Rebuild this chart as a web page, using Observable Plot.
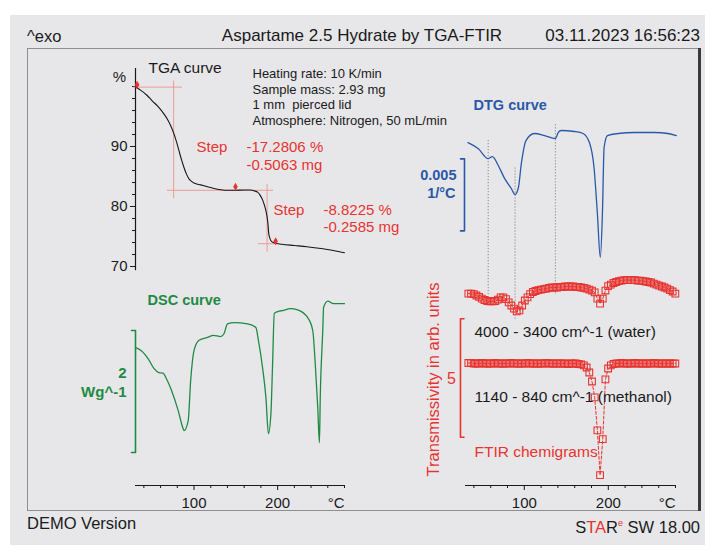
<!DOCTYPE html>
<html><head><meta charset="utf-8">
<script src="https://cdn.jsdelivr.net/npm/d3@7"></script>
<script src="https://cdn.jsdelivr.net/npm/@observablehq/plot@0.6"></script>
<style>
html,body{margin:0;padding:0;background:#fff;}
#page{position:relative;width:716px;height:559px;overflow:hidden;font-family:"Liberation Sans",Arial,Helvetica,sans-serif;}
#page svg{position:absolute;left:0;top:0;}
.bg{position:absolute;left:10px;top:15px;width:695px;height:530px;background:#e7e7ea;}
.ln{position:absolute;}
.t{position:absolute;white-space:nowrap;color:#1a1a1a;line-height:20px;}
</style></head><body>
<div id="page"><div class="bg"></div>
<div class="ln" style="left:27px;top:48px;width:673px;height:1px;background:#8e8e8e"></div>
<div class="ln" style="left:27px;top:48px;width:1px;height:463px;background:#8e8e8e"></div>
<div class="ln" style="left:27px;top:510px;width:673px;height:1px;background:#8e8e8e"></div>
<div class="ln" style="left:698px;top:48px;width:3px;height:463px;background:#3a3a3a"></div>
<div class="t" id="hLeft" style="left:27px;top:26px;font-size:16.5px"></div>
<div class="t" id="hTitle" style="left:362px;top:26px;font-size:17px;transform:translateX(-50%)"></div>
<div class="t" id="hDate" style="right:16px;top:26px;font-size:17px"></div>
<div class="t" id="fLeft" style="left:27px;top:513px;font-size:16.5px"></div>
<div class="t" id="fRight" style="right:16px;top:513px;font-size:16.5px"><span>S</span><span style="color:#e8332f">TA</span><span>R</span><sup style="color:#e8332f;font-size:9px;vertical-align:7px">e</sup><span> SW 18.00</span></div>
</div>
<script>
// ---------- texts ----------
const headerLeft = "^exo";
const headerTitle = "Aspartame 2.5 Hydrate by TGA-FTIR";
const headerDate = "03.11.2023 16:56:23";
const footerLeft = "DEMO Version";
const infoLines = ["Heating rate: 10 K/min", "Sample mass: 2.93 mg", "1 mm  pierced lid", "Atmosphere: Nitrogen, 50 mL/min"];

// ---------- TGA (°C, %) ----------
const tgaTemp = [30,36,44,50,56,62,68,72,76,79,82,85,88,91,94,97,100,108,116,124,132,140,150,160,168,172,176,179,182,184,186,187.5,188.5,189.3,190.5,192,196,205,220,235,252,265,280];
const tgaMass = [99.9,99.4,98.5,97.6,96.8,95.8,94.6,93.5,92.1,90.8,89.3,87.8,86.5,85.4,84.6,84.2,83.9,83.6,83.3,83.0,82.8,82.7,82.7,82.75,82.75,82.6,82.4,81.9,81.1,80.3,79.3,78.2,77.0,75.6,74.8,74.3,73.9,73.7,73.5,73.3,73.0,72.7,72.3];
const tgaMajorTicks = [70, 80, 90];
const tgaMinorTicks = [72,74,76,78,82,84,86,88,92,94,96,98,100];
// step evaluations
const stepWord = ["Step", "Step"];
const stepPercent = ["-17.2806 %", "-8.8225 %"];
const stepMassText = ["-0.5063 mg", "-0.2585 mg"];
const stepInflectionTemp = [75.6, 187.4];
const stepUpper = [99.9, 82.7];
const stepLower = [82.7, 73.8];
const stepLineLevel = [99.9, 82.7, 73.8];
const stepLineFrom = [27.6, 68.3, 177.1];
const stepLineTo = [86.2, 195.1, 199.9];
const stepLimitTemp = [32, 149.6, 197.6];
const stepLimitMass = [100.3, 83.3, 74.2];

// ---------- DSC (°C, W/g) ----------
const dscTemp = [30,37,45,52,58,63,67,73,81,87,88,93,96,100,106,117,123,132,136,140,148,164,174,177,182,186,189,192,194,196,200,207,215,224,236,242,245,248,250,251,254,255,260,267,280];
const dscHeatFlow = [-0.28,-0.33,-0.46,-0.62,-0.69,-0.70,-0.79,-0.98,-1.31,-1.61,-1.64,-1.48,-0.82,-0.33,-0.16,-0.11,-0.08,-0.10,-0.05,0.11,0.13,0.11,0.05,-0.16,-0.61,-1.10,-1.69,-1.36,-0.54,0.28,0.31,0.33,0.36,0.34,0.21,0,-0.54,-1.26,-1.84,-1.10,0,0.38,0.48,0.44,0.44];
const dscScaleBar = 2; // W/g

// ---------- DTG (°C, 1e-3 1/°C) ----------
const dtgTemp = [33,45,57,62,69,76,84.5,89,93,96.5,102,112,124,137,140.5,144,159.5,170,177.5,183,187,190.5,193,195,199,212,231,255,271,281];
const dtgRate = [-0.63,-1.04,-1.74,-1.60,-2.22,-3.06,-3.82,-4.24,-3.75,-2.08,-0.49,0,-0.14,-0.35,0.07,0.21,0.14,0,-0.63,-2.36,-5.56,-8.61,-5.56,-0.97,-0.14,0,0.07,0.07,0,-0.14];
const dtgPeakTemp = [57, 89, 137];
const dtgPeakTop = [-0.5, -2.4, 0.6];
const dtgPeakBottom = [-11.8, -13.0, -11.25];
const dtgScaleBar = 5; // 0.005 1/°C

// ---------- FTIR chemigrams (°C, arb. units) ----------
const ftirTemp = [33.4,36.6,39.8,43.0,46.2,49.4,52.6,55.8,59.0,62.2,65.4,68.6,71.8,75.0,78.2,81.4,84.6,87.8,91.0,94.2,97.4,100.6,103.8,107.0,110.2,113.4,116.6,119.8,123.0,126.2,129.4,132.6,135.8,139.0,142.2,145.4,148.6,151.8,155.0,158.2,161.4,164.6,167.8,171.0,174.2,177.4,180.6,183.8,187.0,190.2,193.4,196.6,199.8,203.0,206.2,209.4,212.6,215.8,219.0,222.2,225.4,228.6,231.8,235.0,238.2,241.4,244.6,247.8,251.0,254.2,257.4,260.6,263.8,267.0,270.2,273.4,276.6,279.8];
const waterSignal = [0.29,0.29,0.27,0.21,0.15,0.08,0.02,-0.02,-0.04,-0.04,-0.02,0.04,0.13,0.13,0.06,-0.08,-0.21,-0.34,-0.46,-0.42,-0.21,0,0.13,0.27,0.36,0.40,0.44,0.46,0.48,0.50,0.53,0.55,0.55,0.55,0.57,0.57,0.59,0.59,0.59,0.59,0.57,0.57,0.55,0.53,0.50,0.46,0.42,0.34,0.08,-0.13,0.08,0.42,0.61,0.67,0.74,0.78,0.82,0.84,0.86,0.86,0.86,0.86,0.86,0.84,0.84,0.82,0.80,0.78,0.76,0.71,0.67,0.63,0.59,0.55,0.50,0.44,0.38,0.29];
const methanolSignal = [0.02,0.02,0,0,0,0.02,0,0,0,0,0.02,0,0,0,0,0,0.02,0,0,0,0,0,0.02,0,0,0,0,0,0,0.02,0,0,0,0,0,0,0,-0.02,0,0,0,-0.02,-0.04,-0.08,-0.17,-0.38,-0.76,-1.43,-2.82,-4.71,-3.19,-0.67,-0.21,-0.08,-0.02,0,0,0.02,0,0,0,0,0.02,0,0,0,0,0,0,0.02,0,0,0,0,0,0,0,0];
const ftirScaleBar = 5;

// ---------- axis ----------
const tempDomain = [30, 280];
const tempMajorTicks = [100, 200];
const tempMinorTicks = [40,60,80,120,140,160,180,220,240,260,280];
const tempUnitTick = [270];
const tempUnit = "°C";

// labels
const labels = {
  tga: "TGA curve", pct: "%", dsc: "DSC curve", dscVal: "2", dscUnit: "Wg^-1",
  dtg: "DTG curve", dtgVal: "0.005", dtgUnit: "1/°C",
  trans: "Transmissivity in arb. units", ftirVal: "5",
  water: "4000 - 3400 cm^-1 (water)", methanol: "1140 - 840 cm^-1 (methanol)", ftir: "FTIR chemigrams"
};

document.getElementById("hLeft").textContent = headerLeft;
document.getElementById("hTitle").textContent = headerTitle;
document.getElementById("hDate").textContent = headerDate;
document.getElementById("fLeft").textContent = footerLeft;

const W = 716, H = 559;
const ink = "#1a1a1a", red = "#e8332f", pink = "#ef9a96", blue = "#2a58a8", green = "#1f8a44";
const FONT = "'Liberation Sans', Arial, Helvetica, sans-serif";
const page = document.getElementById("page");
const leftX = [135, 344], rightX = [465, 675];

function layer(xr, yd, yr, marks, xopts = {}) {
  const svg = Plot.plot({
    width: W, height: H,
    marginLeft: xr[0], marginRight: W - xr[1],
    marginTop: yr[1], marginBottom: H - yr[0],
    x: {domain: tempDomain, axis: null, ...xopts},
    y: {domain: yd, axis: null},
    style: {background: "transparent", color: ink, fontFamily: FONT, fontSize: "15px", overflow: "visible"},
    marks
  });
  page.appendChild(svg);
}
function bracket(xLine, xSerif, yTop, yBottom, color) {
  return Plot.line([0, 1, 2, 3], {x: [xSerif, xLine, xLine, xSerif], y: [yTop, yTop, yBottom, yBottom], stroke: color, strokeWidth: 1.6});
}

// TGA layer
layer(leftX, [69.3, 103], [270.2, 68], [
  Plot.ruleX([tempDomain[0]], {stroke: ink, strokeWidth: 1.2}),
  Plot.axisY({ticks: tgaMinorTicks, tickSize: 3, tickFormat: () => "", anchor: "left", label: null}),
  Plot.axisY({ticks: tgaMajorTicks, tickSize: 5, tickPadding: 3, anchor: "left", label: null, fontSize: 15}),
  Plot.ruleX(stepInflectionTemp, {x: d => d, y1: (d, i) => stepUpper[i] + 1, y2: (d, i) => stepLower[i] - 1.4, stroke: pink, strokeWidth: 1}),
  Plot.ruleY(stepLineLevel, {y: d => d, x1: (d, i) => stepLineFrom[i], x2: (d, i) => stepLineTo[i], stroke: pink, strokeWidth: 1}),
  Plot.line(tgaTemp, {x: tgaTemp, y: tgaMass, stroke: "#151515", strokeWidth: 1.1, curve: "monotone-x"}),
  Plot.dot(stepLimitTemp, {x: stepLimitTemp, y: stepLimitMass, symbol: "diamond", r: 2.4, fill: red, stroke: "none"})
]);

// DSC layer
layer(leftX, [-3, 1], [513, 269], [
  bracket(30, 25.2, 0, -dscScaleBar, green),
  Plot.line(dscTemp, {x: dscTemp, y: dscHeatFlow, stroke: green, strokeWidth: 1.3, curve: "monotone-x"})
]);

// temperature axes
for (const xr of [leftX, rightX]) {
  const svg = Plot.plot({
    width: W, height: H, marginLeft: xr[0], marginRight: W - xr[1], marginTop: 480, marginBottom: H - 485,
    x: {domain: tempDomain}, y: {domain: [0, 1], axis: null},
    style: {background: "transparent", color: ink, fontFamily: FONT, fontSize: "15px", overflow: "visible"},
    marks: [
      Plot.ruleY([0], {stroke: ink, strokeWidth: 1.2}),
      Plot.axisX({ticks: tempMinorTicks, tickSize: 3, tickFormat: () => "", anchor: "bottom", label: null}),
      Plot.axisX({ticks: tempMajorTicks, tickSize: 5, tickPadding: 7, anchor: "bottom", label: null, fontSize: 15}),
      Plot.axisX({ticks: tempUnitTick, tickSize: 0, tickPadding: 12, tickFormat: () => tempUnit, anchor: "bottom", label: null, fontSize: 15})
    ]
  });
  page.appendChild(svg);
}

// DTG layer
layer(rightX, [-15, 5], [349, 61], [
  Plot.ruleX(dtgPeakTemp, {x: d => d, y1: dtgPeakTop, y2: dtgPeakBottom, stroke: "#555", strokeWidth: 0.8, strokeDasharray: "1,2"}),
  bracket(28.8, 24, -1.76, -1.76 - dtgScaleBar, blue),
  Plot.line(dtgTemp, {x: dtgTemp, y: dtgRate, stroke: blue, strokeWidth: 1.3, curve: "monotone-x"})
]);

// FTIR water
layer(rightX, [-5, 5], [418.5, 181.5], [
  Plot.line(ftirTemp, {x: ftirTemp, y: waterSignal, stroke: red, strokeWidth: 1, strokeDasharray: "3,2"}),
  Plot.dot(ftirTemp, {x: ftirTemp, y: waterSignal, symbol: "square", r: 3.8, stroke: red, strokeWidth: 1.1, fill: "none"})
]);

// FTIR methanol
layer(rightX, [-5, 5], [481.5, 244.5], [
  bracket(24, 28.2, 1.89, 1.89 - ftirScaleBar, red),
  Plot.line(ftirTemp, {x: ftirTemp, y: methanolSignal, stroke: red, strokeWidth: 1, strokeDasharray: "3,2"}),
  Plot.dot(ftirTemp, {x: ftirTemp, y: methanolSignal, symbol: "square", r: 3.8, stroke: red, strokeWidth: 1.1, fill: "none"})
]);

// text layer (pixel positions)
function txt(s, x, y, o = {}) {
  return Plot.text([s], {x, y, text: d => d, fontSize: 15, fill: ink, textAnchor: "start", ...o});
}
const textSvg = Plot.plot({
  width: W, height: H, margin: 0,
  x: {type: "identity", axis: null}, y: {type: "identity", axis: null},
  style: {background: "transparent", color: ink, fontFamily: FONT, overflow: "visible"},
  marks: [
    txt(labels.tga, 148, 68, {fontSize: 15.5}),
    txt(labels.pct, 119, 77, {textAnchor: "middle"}),
    ...infoLines.map((s, i) => txt(s, 252, [73, 89, 104.5, 120][i], {fontSize: 13})),
    txt(stepWord[0], 196, 147, {fill: red}),
    txt(stepPercent[0], 246, 147, {fill: red}),
    txt(stepMassText[0], 246, 164.5, {fill: red}),
    txt(stepWord[1], 273, 210, {fill: red}),
    txt(stepPercent[1], 323, 210, {fill: red}),
    txt(stepMassText[1], 323, 227, {fill: red}),
    txt(labels.dsc, 147, 300, {fill: green, fontWeight: "bold", fontSize: 14.5}),
    txt(labels.dscVal, 126, 373, {fill: green, fontWeight: "bold", textAnchor: "end"}),
    txt(labels.dscUnit, 126, 392, {fill: green, fontWeight: "bold", textAnchor: "end"}),
    txt(labels.dtg, 473, 105, {fill: blue, fontWeight: "bold", fontSize: 14.5}),
    txt(labels.dtgVal, 456, 175, {fill: blue, fontWeight: "bold", textAnchor: "end", fontSize: 14.5}),
    txt(labels.dtgUnit, 455, 193, {fill: blue, fontWeight: "bold", textAnchor: "end", fontSize: 14.5}),
    txt(labels.trans, 433, 379, {fill: red, textAnchor: "middle", rotate: -90, fontSize: 16.5}),
    txt(labels.ftirVal, 451, 378, {fill: red, textAnchor: "middle", fontSize: 16}),
    txt(labels.water, 474, 332, {fontSize: 15.5}),
    txt(labels.methanol, 474, 397, {fontSize: 15.5}),
    txt(labels.ftir, 474, 452, {fill: red, fontSize: 15.5})
  ]
});
page.appendChild(textSvg);
</script>
</body></html>
